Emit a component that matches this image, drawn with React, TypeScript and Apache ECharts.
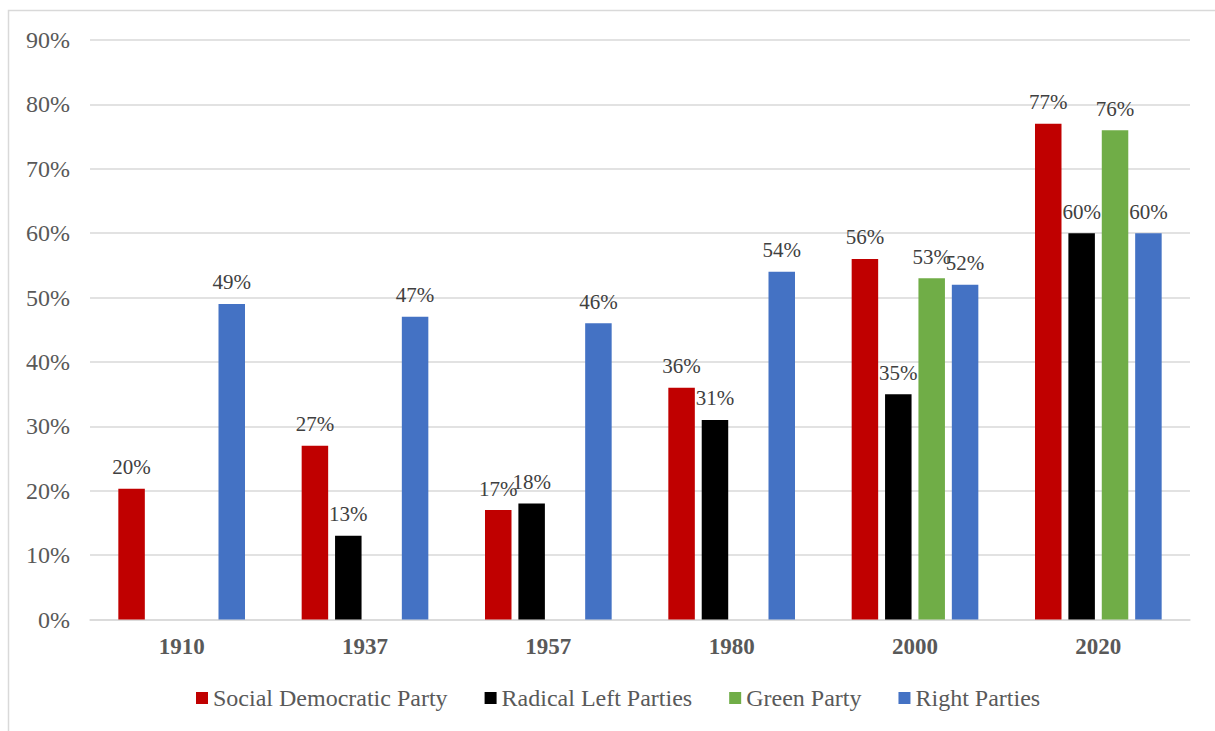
import React, { useEffect, useRef } from "react";
import * as echarts from "echarts";

const years = ["1910", "1937", "1957", "1980", "2000", "2020"];
const socialDemocratic = [20.3, 27, 17, 36, 56, 77];
const radicalLeft = [null, 13, 18, 31, 35, 60];
const green = [null, null, null, null, 53, 76];
const right = [49, 47, 46, 54, 52, 60];
const yTicks = { min: 0, max: 90, interval: 10 };

const seriesNames = ["Social Democratic Party", "Radical Left Parties", "Green Party", "Right Parties"];
const seriesColors = ["#C00000", "#000000", "#70AD47", "#4472C4"];
const seriesData = [socialDemocratic, radicalLeft, green, right];

const FONT = "Liberation Serif";

export default function App() {
  const ref = useRef<HTMLDivElement>(null);
  useEffect(() => {
    if (!ref.current) return;
    const chart = echarts.init(ref.current, undefined, { renderer: "svg" });
    chart.setOption({
      animation: false,
      backgroundColor: "#ffffff",
      textStyle: { fontFamily: FONT },
      graphic: [
        {
          type: "rect",
          shape: { x: 8.5, y: 10.5, width: 1400, height: 900 },
          style: { fill: "none", stroke: "#d9d9d9", lineWidth: 1.5 },
          silent: true,
        },
      ],
      grid: { left: 90, right: 25, top: 40, bottom: 111.5, containLabel: false },
      legend: {
        left: 191,
        top: 681,
        itemWidth: 12,
        itemHeight: 12,
        itemGap: 37,
        icon: "rect",
        textStyle: { fontFamily: FONT, fontSize: 24, color: "#595959" },
        data: seriesNames,
      },
      xAxis: {
        type: "category",
        data: years,
        axisTick: { show: false },
        axisLine: { lineStyle: { color: "#d9d9d9", width: 1.5 } },
        axisLabel: {
          fontFamily: FONT,
          fontSize: 23,
          fontWeight: "bold",
          color: "#595959",
          margin: 15,
        },
      },
      yAxis: {
        type: "value",
        min: yTicks.min,
        max: yTicks.max,
        interval: yTicks.interval,
        axisLine: { show: false },
        axisTick: { show: false },
        splitLine: { lineStyle: { color: "#d9d9d9", width: 1.5 } },
        axisLabel: {
          fontFamily: FONT,
          fontSize: 24,
          color: "#595959",
          margin: 20,
          formatter: "{value}%",
        },
      },
      series: seriesNames.map((name, i) => ({
        name,
        type: "bar",
        data: seriesData[i],
        barWidth: 26.5,
        barGap: "26%",
        itemStyle: { color: seriesColors[i] },
        label: {
          show: true,
          position: "top",
          distance: 11,
          fontFamily: FONT,
          fontSize: 21,
          color: "#404040",
          formatter: (p: any) => `${Math.round(p.value)}%`,
        },
      })),
    });
    return () => chart.dispose();
  }, []);
  return (
    <div
      ref={ref}
      style={{ position: "fixed", left: 0, top: 0, width: 1215, height: 731, background: "#fff" }}
    />
  );
}
